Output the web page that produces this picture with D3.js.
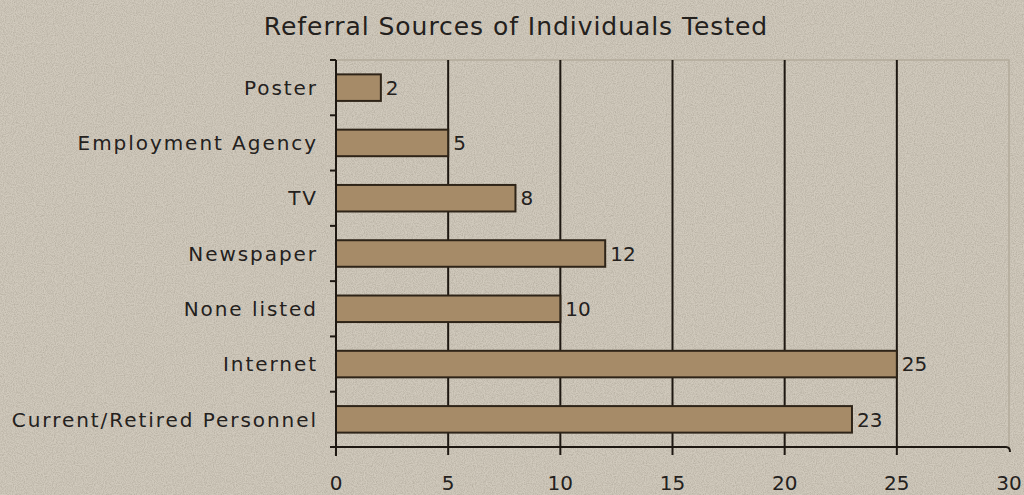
<!DOCTYPE html>
<meta charset="utf-8">
<style>
body { margin:0; background-color:#cbc4b6; }
svg { display:block; }
.label { font-family:"DejaVu Sans", sans-serif; fill:#24211d; }
.grid line { stroke:#1e1812; stroke-width:2; }
.bar { fill:#a68b68; stroke:#2e2418; stroke-width:2; }
</style>
<body>
<script src="https://cdnjs.cloudflare.com/ajax/libs/d3/7.8.5/d3.min.js"></script>
<script>

var width = 1024,
    height = 495;

var categories = ["Poster", "Employment Agency", "TV", "Newspaper", "None listed", "Internet", "Current/Retired Personnel"];
var counts = [2, 5, 8, 12, 10, 25, 23];
var xTicks = [0, 5, 10, 15, 20, 25, 30];
var title = "Referral Sources of Individuals Tested";

var margin = {top:60, right:15, bottom:48, left:336};

var svg = d3.select("body").append("svg")
    .attr("width", width)
    .attr("height", height);

// paper texture
var defs = svg.append("defs");
var f = defs.append("filter").attr("id","grain").attr("x",0).attr("y",0).attr("width","100%").attr("height","100%");
f.append("feTurbulence").attr("type","fractalNoise").attr("baseFrequency",0.9).attr("numOctaves",2).attr("seed",4).attr("result","n");
f.append("feColorMatrix").attr("type","matrix")
    .attr("values","0 0 0 0 0.16  0 0 0 0 0.14  0 0 0 0 0.10  0 0 0 0.9 -0.3");
svg.append("rect").attr("width",width).attr("height",height).attr("fill","#d1cabd");
svg.append("rect").attr("width",width).attr("height",height).attr("filter","url(#grain)").attr("opacity",0.55);

var x = d3.scaleLinear().domain([0,30]).range([margin.left, 1009]);
var y = d3.scaleBand().domain(categories).range([margin.top, 447]).paddingInner(0.52).paddingOuter(0.26);

// plot frame (faint)
svg.append("path")
    .attr("d","M"+x(0)+","+margin.top+"H"+x(30)+"V447")
    .attr("fill","none").attr("stroke","#b3aa9a").attr("stroke-width",1.5);

// gridlines
svg.append("g").attr("class","grid").selectAll("line")
    .data(xTicks.slice(1,6))
    .enter().append("line")
    .attr("x1",function(d){return x(d);}).attr("x2",function(d){return x(d);})
    .attr("y1",margin.top).attr("y2",455);

// bars
svg.selectAll(".bar").data(counts).enter().append("rect")
    .attr("class","bar")
    .attr("x",x(0))
    .attr("y",function(d,i){return y(categories[i]);})
    .attr("width",function(d){return x(d)-x(0);})
    .attr("height",y.bandwidth());

// axes
var axes = svg.append("g").attr("stroke","#1e1812").attr("stroke-width",2).attr("fill","none");
axes.append("line").attr("x1",x(0)).attr("x2",x(0)).attr("y1",margin.top).attr("y2",456);
axes.append("path").attr("d","M"+(x(0)-6)+",447H"+(x(30)-3)+"Q"+(x(30)+1)+",447 "+(x(30)+1)+",452");
var step = y.step();
axes.selectAll(".ytick").data(d3.range(categories.length))
    .enter().append("line")
    .attr("x1",x(0)-6).attr("x2",x(0))
    .attr("y1",function(i){return margin.top+i*step;})
    .attr("y2",function(i){return margin.top+i*step;});

// category labels
svg.selectAll(".cat").data(categories).enter().append("text")
    .attr("class","label")
    .attr("x",318)
    .attr("y",function(d){return y(d)+y.bandwidth()/2;})
    .attr("dy","0.36em")
    .attr("text-anchor","end")
    .attr("font-size",20)
    .attr("letter-spacing",1.95)
    .text(function(d){return d;});

// value labels
svg.selectAll(".val").data(counts).enter().append("text")
    .attr("class","label")
    .attr("x",function(d){return x(d)+5;})
    .attr("y",function(d,i){return y(categories[i])+y.bandwidth()/2;})
    .attr("dy","0.36em")
    .attr("font-size",20)
    .text(function(d){return d;});

// x tick labels
svg.selectAll(".xt").data(xTicks).enter().append("text")
    .attr("class","label")
    .attr("x",function(d){return x(d);})
    .attr("y",490)
    .attr("text-anchor","middle")
    .attr("font-size",20)
    .text(function(d){return d;});

// title
svg.append("text").attr("class","label")
    .attr("x",516).attr("y",35)
    .attr("text-anchor","middle")
    .attr("font-size",25)
    .attr("letter-spacing",0.95)
    .text(title);

</script>
</body>
